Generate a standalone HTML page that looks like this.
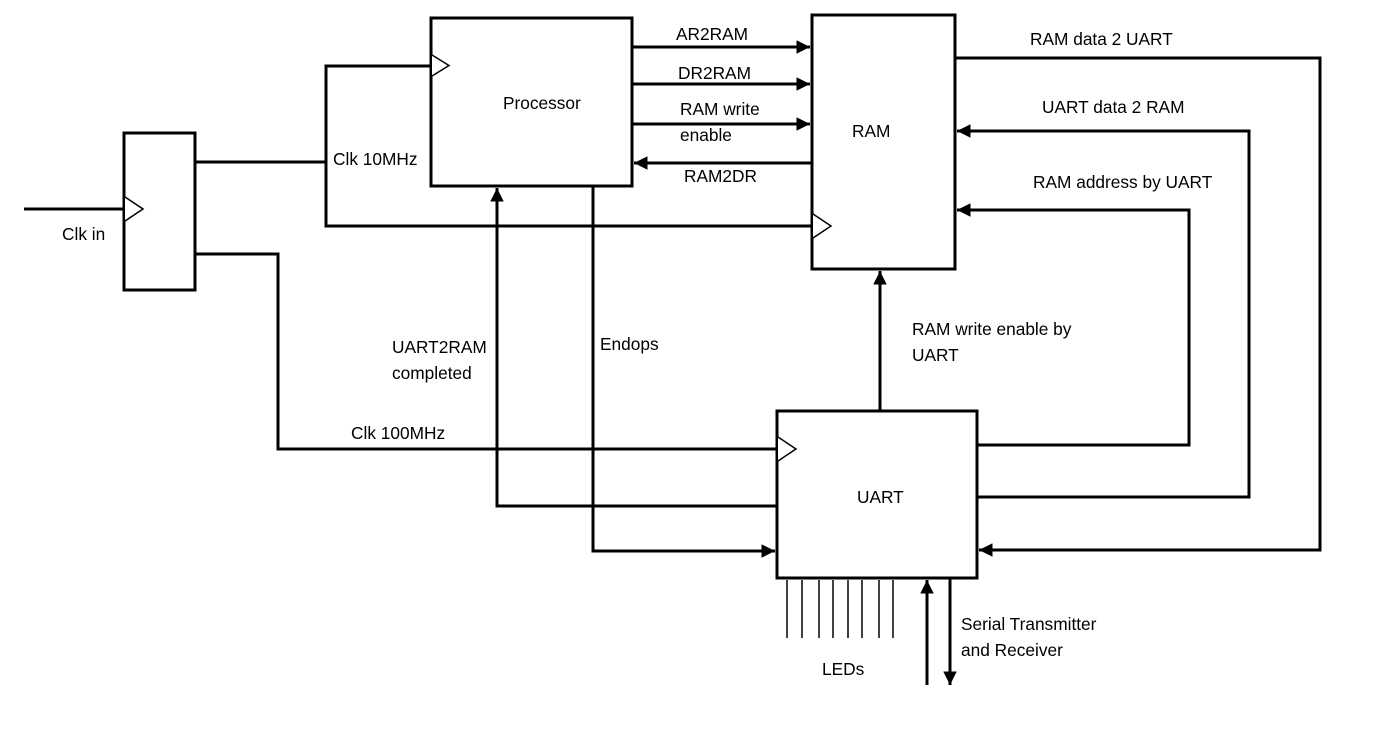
<!DOCTYPE html>
<html><head><meta charset="utf-8"><style>html,body{margin:0;padding:0;background:#fff}</style></head><body>
<svg width="1381" height="726" xmlns="http://www.w3.org/2000/svg" font-family="Liberation Sans, sans-serif" font-size="17.3">
<defs>
<marker id="a" viewBox="0 0 10 10" refX="10" refY="5" markerWidth="4.5" markerHeight="4.5" orient="auto" markerUnits="strokeWidth"><path d="M0,0 L10,5 L0,10 z" fill="#000"/></marker>
</defs>
<g fill="none" stroke="#000" stroke-width="3">
<rect x="124" y="133" width="71" height="157"/>
<rect x="431" y="18" width="201" height="168"/>
<rect x="812" y="15" width="143" height="254"/>
<rect x="777" y="411" width="200" height="167"/>
<line x1="24" y1="209" x2="124" y2="209"/>
<polyline points="195,162 326,162"/>
<polyline points="431,66 326,66 326,226 812,226"/>
<polyline points="195,254 278,254 278,449 777,449"/>
<line x1="632" y1="47" x2="810" y2="47" marker-end="url(#a)"/>
<line x1="632" y1="84" x2="810" y2="84" marker-end="url(#a)"/>
<line x1="632" y1="124" x2="810" y2="124" marker-end="url(#a)"/>
<line x1="812" y1="163" x2="634" y2="163" marker-end="url(#a)"/>
<polyline points="777,506 497,506 497,188" marker-end="url(#a)"/>
<polyline points="593,186 593,551 775,551" marker-end="url(#a)"/>
<line x1="880" y1="411" x2="880" y2="271" marker-end="url(#a)"/>
<polyline points="955,58 1320,58 1320,550 979,550" marker-end="url(#a)"/>
<polyline points="977,497 1249,497 1249,131 957,131" marker-end="url(#a)"/>
<polyline points="977,445 1189,445 1189,210 957,210" marker-end="url(#a)"/>
<line x1="927" y1="685" x2="927" y2="580" marker-end="url(#a)"/>
<line x1="950" y1="578" x2="950" y2="685" marker-end="url(#a)"/>
</g>
<g fill="#fff" stroke="#000" stroke-width="1.5">
<path d="M125,197 L143,209 L125,221"/>
<path d="M432,55 L449,65.5 L432,76"/>
<path d="M813,214 L831,226 L813,238"/>
<path d="M778,437 L796,449 L778,461"/>
</g>
<g stroke="#000" stroke-width="1.5">
<line x1="787" y1="580" x2="787" y2="638"/><line x1="802" y1="580" x2="802" y2="638"/>
<line x1="819" y1="580" x2="819" y2="638"/><line x1="833" y1="580" x2="833" y2="638"/>
<line x1="848" y1="580" x2="848" y2="638"/><line x1="862" y1="580" x2="862" y2="638"/>
<line x1="879" y1="580" x2="879" y2="638"/><line x1="893" y1="580" x2="893" y2="638"/>
</g>
<g fill="#000">
<text x="62" y="240">Clk in</text>
<text x="333" y="165">Clk 10MHz</text>
<text x="503" y="109">Processor</text>
<text x="852" y="137">RAM</text>
<text x="857" y="503">UART</text>
<text x="676" y="40">AR2RAM</text>
<text x="678" y="79">DR2RAM</text>
<text x="680" y="115">RAM write</text>
<text x="680" y="141">enable</text>
<text x="684" y="182">RAM2DR</text>
<text x="1030" y="45">RAM data 2 UART</text>
<text x="1042" y="113">UART data 2 RAM</text>
<text x="1033" y="188">RAM address by UART</text>
<text x="912" y="335">RAM write enable by</text>
<text x="912" y="361">UART</text>
<text x="392" y="353">UART2RAM</text>
<text x="392" y="379">completed</text>
<text x="600" y="350">Endops</text>
<text x="351" y="439">Clk 100MHz</text>
<text x="822" y="675">LEDs</text>
<text x="961" y="630">Serial Transmitter</text>
<text x="961" y="656">and Receiver</text>
</g>
</svg>
</body></html>
